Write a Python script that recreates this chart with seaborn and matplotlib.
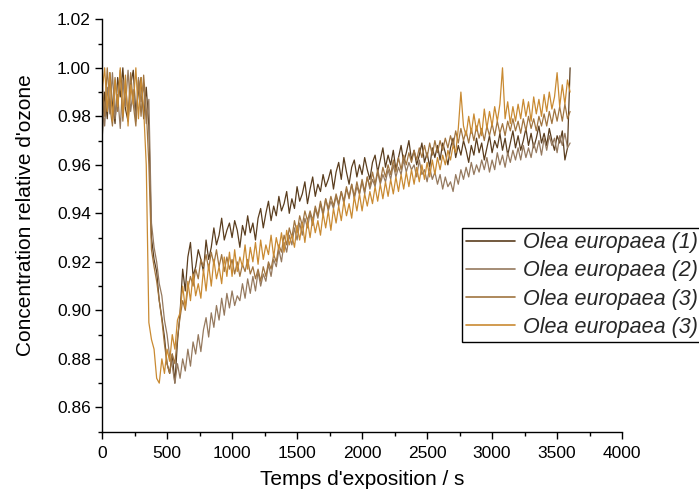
import numpy as np
import pandas as pd
import matplotlib
matplotlib.use("Agg")
import matplotlib.pyplot as plt
from matplotlib.ticker import MultipleLocator, AutoMinorLocator, FormatStrFormatter
import seaborn as sns

time_s = list(range(0, 3601, 20))

olea_1 = [
    0.970, 0.990, 0.979, 0.998, 0.985, 0.977, 0.996, 0.988, 1.000, 0.983,
    0.978, 0.993, 0.999, 0.981, 0.990, 0.996, 0.979, 0.992, 0.976, 0.930,
    0.921, 0.916, 0.904, 0.897, 0.889, 0.878, 0.874, 0.882, 0.870, 0.887,
    0.899, 0.917, 0.908, 0.922, 0.928, 0.914, 0.918, 0.925, 0.921, 0.916,
    0.929, 0.921, 0.926, 0.934, 0.927, 0.931, 0.938, 0.929, 0.933, 0.936,
    0.930, 0.937, 0.933, 0.926, 0.935, 0.931, 0.939, 0.932, 0.936, 0.929,
    0.938, 0.942, 0.934, 0.940, 0.945, 0.937, 0.943, 0.939, 0.947, 0.941,
    0.944, 0.949, 0.940, 0.946, 0.942, 0.951, 0.945, 0.948, 0.953, 0.944,
    0.950, 0.955, 0.947, 0.952, 0.949, 0.956, 0.951, 0.954, 0.958, 0.950,
    0.957, 0.961, 0.954, 0.963, 0.957, 0.952, 0.959, 0.962, 0.955, 0.960,
    0.956, 0.963, 0.958, 0.954, 0.961, 0.964, 0.957, 0.962, 0.967, 0.959,
    0.964, 0.960, 0.966, 0.958, 0.963, 0.968, 0.961, 0.965, 0.970, 0.962,
    0.966, 0.960, 0.964, 0.969, 0.961, 0.965, 0.959, 0.967, 0.963, 0.968,
    0.962, 0.969, 0.965, 0.960, 0.967, 0.971, 0.963, 0.968, 0.964, 0.970,
    0.966, 0.961, 0.968, 0.964, 0.971, 0.965, 0.969, 0.962, 0.967, 0.972,
    0.965, 0.970, 0.967, 0.973, 0.966, 0.971, 0.964, 0.969, 0.974, 0.967,
    0.972, 0.966, 0.970, 0.975, 0.968, 0.973, 0.967, 0.971, 0.976, 0.969,
    0.973, 0.968, 0.975, 0.970, 0.966, 0.972, 0.969, 0.974, 0.962, 0.967,
    1.000,
]

olea_2 = [
    0.986, 0.976, 0.992, 0.981, 0.998, 0.979, 0.989, 0.975, 0.995, 0.984,
    0.999, 0.982, 0.991, 0.978, 0.996, 0.986, 0.993, 0.977, 0.987, 0.936,
    0.926, 0.920, 0.911, 0.906, 0.896, 0.890, 0.881, 0.877, 0.870, 0.878,
    0.872, 0.880, 0.875, 0.884, 0.877, 0.887, 0.882, 0.890, 0.883, 0.892,
    0.897, 0.889, 0.899, 0.893, 0.902, 0.896, 0.905, 0.898, 0.907, 0.901,
    0.908, 0.902, 0.906, 0.904, 0.911, 0.905, 0.913, 0.907, 0.914, 0.908,
    0.916, 0.910, 0.915, 0.912, 0.919, 0.914, 0.921, 0.918, 0.925, 0.920,
    0.928, 0.924, 0.931, 0.927, 0.934, 0.929, 0.936, 0.931, 0.938, 0.934,
    0.940, 0.935, 0.942, 0.938, 0.944, 0.939, 0.946, 0.941, 0.945, 0.942,
    0.947, 0.943, 0.949, 0.944, 0.950, 0.947, 0.952, 0.946, 0.951, 0.948,
    0.953, 0.948, 0.955, 0.950, 0.954, 0.951, 0.957, 0.952, 0.956, 0.953,
    0.958, 0.954, 0.960, 0.955, 0.959, 0.956, 0.962, 0.957, 0.961, 0.958,
    0.960, 0.955, 0.962, 0.956, 0.958, 0.953, 0.959, 0.954, 0.957, 0.952,
    0.956, 0.950, 0.955, 0.951, 0.953, 0.949, 0.956, 0.952, 0.958, 0.954,
    0.959, 0.955, 0.961, 0.956, 0.960, 0.957, 0.962, 0.958, 0.963, 0.957,
    0.962, 0.958, 0.965, 0.960, 0.964, 0.959, 0.965, 0.961, 0.966, 0.962,
    0.967, 0.962, 0.968, 0.963, 0.967, 0.963, 0.969, 0.965, 0.970, 0.964,
    0.971, 0.966, 0.972, 0.968, 0.971, 0.965, 0.972, 0.968, 0.973, 0.967,
    0.969,
]

olea_3a = [
    0.995, 0.980, 1.000, 0.984, 0.976, 0.996, 0.982, 0.999, 0.978, 0.993,
    0.981, 0.998, 0.985, 0.976, 0.995, 0.980, 0.997, 0.983, 0.960, 0.925,
    0.918, 0.912, 0.904, 0.896, 0.886, 0.878, 0.874, 0.882, 0.878, 0.889,
    0.897, 0.904, 0.900, 0.909, 0.914, 0.910, 0.917, 0.913, 0.921, 0.918,
    0.923, 0.917, 0.924, 0.919, 0.925, 0.918, 0.923, 0.916, 0.922, 0.917,
    0.921, 0.915, 0.920, 0.914, 0.919, 0.916, 0.921, 0.915, 0.918, 0.913,
    0.917, 0.912, 0.918, 0.914, 0.920, 0.917, 0.923, 0.920, 0.927, 0.924,
    0.931, 0.927, 0.934, 0.930, 0.937, 0.932, 0.939, 0.935, 0.941, 0.937,
    0.941, 0.937, 0.943, 0.939, 0.945, 0.940, 0.946, 0.942, 0.947, 0.943,
    0.948, 0.944, 0.949, 0.945, 0.951, 0.946, 0.952, 0.947, 0.953, 0.948,
    0.954, 0.949, 0.955, 0.951, 0.957, 0.952, 0.958, 0.953, 0.959, 0.955,
    0.960, 0.956, 0.962, 0.957, 0.963, 0.958, 0.964, 0.960, 0.965, 0.961,
    0.966, 0.962, 0.967, 0.963, 0.968, 0.963, 0.969, 0.964, 0.970, 0.965,
    0.970, 0.966, 0.971, 0.967, 0.972, 0.968, 0.974, 0.969, 0.975, 0.970,
    0.974, 0.969, 0.975, 0.970, 0.976, 0.971, 0.975, 0.970, 0.976, 0.972,
    0.977, 0.972, 0.978, 0.973, 0.977, 0.972, 0.978, 0.974, 0.979, 0.974,
    0.978, 0.973, 0.979, 0.974, 0.980, 0.975, 0.979, 0.974, 0.980, 0.976,
    0.981, 0.976, 0.982, 0.977, 0.983, 0.978, 0.984, 0.978, 0.985, 0.979,
    0.982,
]

olea_3b = [
    0.990, 1.000, 0.982, 0.998, 0.978, 0.995, 0.984, 1.000, 0.980, 0.997,
    0.976, 0.993, 0.985, 1.000, 0.979, 0.996, 0.983, 0.960, 0.895, 0.888,
    0.884, 0.872, 0.870, 0.880, 0.874, 0.884, 0.879, 0.890, 0.884, 0.896,
    0.899, 0.910, 0.901, 0.912, 0.904, 0.915, 0.906, 0.911, 0.905, 0.917,
    0.908, 0.919, 0.910, 0.921, 0.913, 0.918, 0.911, 0.922, 0.914, 0.924,
    0.914, 0.925, 0.916, 0.922, 0.918, 0.927, 0.917, 0.926, 0.920, 0.928,
    0.919, 0.929, 0.921, 0.927, 0.923, 0.931, 0.922, 0.930, 0.925, 0.932,
    0.924, 0.933, 0.927, 0.931, 0.926, 0.935, 0.929, 0.936, 0.928, 0.937,
    0.930, 0.938, 0.932, 0.937, 0.931, 0.940, 0.934, 0.941, 0.933, 0.942,
    0.936, 0.943, 0.937, 0.945, 0.939, 0.944, 0.938, 0.947, 0.941, 0.948,
    0.941, 0.948, 0.943, 0.949, 0.944, 0.951, 0.945, 0.952, 0.946, 0.953,
    0.947, 0.954, 0.948, 0.955, 0.949, 0.956, 0.950, 0.957, 0.951, 0.958,
    0.952, 0.959, 0.953, 0.960, 0.954, 0.961, 0.955, 0.962, 0.956, 0.963,
    0.958, 0.964, 0.960, 0.966, 0.962, 0.968, 0.965, 0.975, 0.990, 0.976,
    0.972, 0.980, 0.973, 0.981, 0.974, 0.979, 0.972, 0.983, 0.975, 0.982,
    0.976, 0.984, 0.978, 0.985, 1.000, 0.979, 0.986, 0.977, 0.984, 0.978,
    0.985, 0.979, 0.987, 0.980, 0.986, 0.978, 0.988, 0.981, 0.987, 0.980,
    0.989, 0.982, 0.990, 0.983, 0.988, 0.998, 0.984, 0.993, 0.985, 0.995,
    0.990,
]

labels = ["Olea europaea (1)", "Olea europaea (2)", "Olea europaea (3)", "Olea europaea (3)"]
series = [olea_1, olea_2, olea_3a, olea_3b]
colors = ["#5a3d1e", "#95795e", "#a0743f", "#c98a32"]

# ---- style ----
sns.set_theme(style="ticks")
plt.rcParams["font.family"] = ["Liberation Sans", "DejaVu Sans"]
plt.rcParams["axes.linewidth"] = 1.0

fig = plt.figure(figsize=(6.99, 4.95), dpi=100)
ax = fig.add_axes([0.146, 0.128, 0.744, 0.833])

for vals, lab, col in zip(series, labels, colors):
    df = pd.DataFrame({"Temps": time_s, "Conc": vals})
    sns.lineplot(data=df, x="Temps", y="Conc", ax=ax, color=col, lw=0.9,
                 label=lab, estimator=None, sort=False)

ax.set_xlim(0, 4000)
ax.set_ylim(0.85, 1.02)
ax.xaxis.set_major_locator(MultipleLocator(500))
ax.xaxis.set_minor_locator(AutoMinorLocator(2))
ax.yaxis.set_major_locator(MultipleLocator(0.02))
ax.yaxis.set_minor_locator(AutoMinorLocator(2))
ax.yaxis.set_major_formatter(FormatStrFormatter("%.2f"))

for side in ["top", "right"]:
    ax.spines[side].set_visible(False)
for side in ["left", "bottom"]:
    ax.spines[side].set_color("black")

ax.tick_params(axis="both", which="major", direction="out", length=5, width=1,
               color="black", labelsize=12.5, labelcolor="black")
ax.tick_params(axis="x", which="major", pad=5)
ax.tick_params(axis="y", which="major", pad=3)
ax.tick_params(axis="both", which="minor", direction="out", length=3, width=1,
               color="black")

ax.set_xlabel("Temps d'exposition / s", fontsize=15, color="black", labelpad=7)
ax.set_ylabel("Concentration relative d'ozone", fontsize=15, color="black", labelpad=16)
ax.yaxis.label.set_y(0.525)

leg = ax.legend(loc="upper left", bbox_to_anchor=(462 / 699, 1 - 228 / 495),
                bbox_transform=fig.transFigure, frameon=True, fancybox=False,
                edgecolor="black", framealpha=1, borderaxespad=0,
                borderpad=0.2, fontsize=15.5, handlelength=2.25,
                handletextpad=0.38, labelspacing=0.33)
leg.get_frame().set_linewidth(1.0)
for t in leg.get_texts():
    t.set_fontstyle("italic")
for h in leg.get_lines():
    h.set_linewidth(1.2)

fig.savefig("out.png", dpi=100)
